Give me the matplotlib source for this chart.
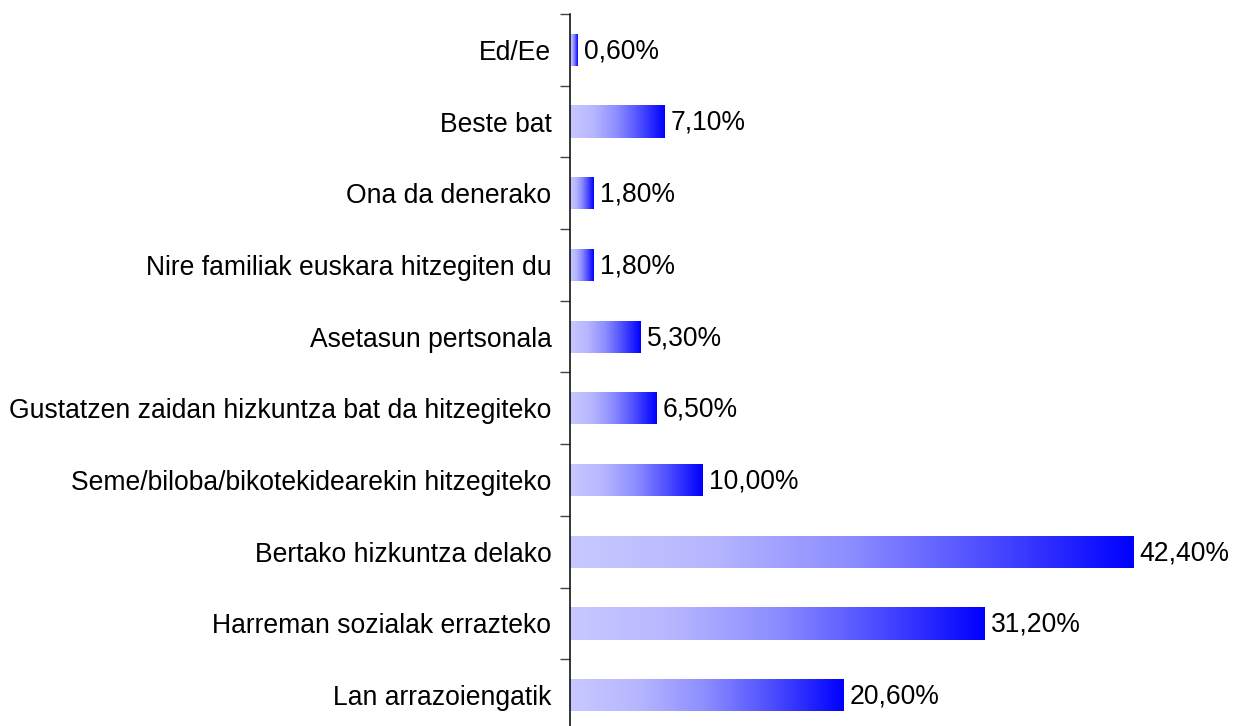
import numpy as np
import matplotlib
matplotlib.use("Agg")
import matplotlib.pyplot as plt
from matplotlib.colors import LinearSegmentedColormap

categories = [
    "Ed/Ee",
    "Beste bat",
    "Ona da denerako",
    "Nire familiak euskara hitzegiten du",
    "Asetasun pertsonala",
    "Gustatzen zaidan hizkuntza bat da hitzegiteko",
    "Seme/biloba/bikotekidearekin hitzegiteko",
    "Bertako hizkuntza delako",
    "Harreman sozialak errazteko",
    "Lan arrazoiengatik",
]
values = [0.6, 7.1, 1.8, 1.8, 5.3, 6.5, 10.0, 42.4, 31.2, 20.6]
value_labels = ["0,60%", "7,10%", "1,80%", "1,80%", "5,30%", "6,50%",
                "10,00%", "42,40%", "31,20%", "20,60%"]

plt.rcParams['font.family'] = ['Liberation Sans', 'DejaVu Sans']

W, H = 1234, 726
fig = plt.figure(figsize=(W / 100, H / 100), dpi=100)
left = 569.5 / W
top_px = 14
bottom_px = 731
ax = fig.add_axes([left, (H - bottom_px) / H, 1 - left, (bottom_px - top_px) / H])

cmap = LinearSegmentedColormap.from_list(
    "grad",
    [(0.0, "#c8c8ff"), (0.25, "#b6b6ff"), (0.5, "#8c8cff"),
     (0.75, "#4a4aff"), (1.0, "#0000ff")])

n = len(categories)
ypos = np.arange(n)
bar_h = 0.45
bars = ax.barh(ypos, values, height=bar_h, color="none", edgecolor="none")
grad = np.linspace(0, 1, 256).reshape(1, -1)
for b, v in zip(bars, values):
    y0 = b.get_y()
    im = ax.imshow(grad, cmap=cmap, aspect="auto",
                   extent=(0, v, y0 + bar_h, y0), interpolation="bicubic",
                   zorder=2)
    im.set_clip_path(b)

fs = 19.1
for y, v, lab in zip(ypos, values, value_labels):
    ax.text(v + 0.5, y + 0.02, lab, va="center", ha="left", fontsize=fs, color="black")

ax.set_xlim(0, 50)
ax.set_ylim(n - 0.5, -0.5)
ax.set_yticks(ypos)
ax.set_yticklabels(categories, fontsize=fs)
ax.set_yticks(np.arange(-0.5, n, 1.0), minor=True)
ax.tick_params(axis="y", which="major", length=0, pad=13)
ax.tick_params(axis="y", which="minor", length=7, width=1, direction="out", color="#444444")
ax.set_xticks([])
for s in ["top", "right", "bottom"]:
    ax.spines[s].set_visible(False)
ax.spines["left"].set_linewidth(1.1)
ax.patch.set_alpha(0)

fig.savefig("out.png", dpi=100)
